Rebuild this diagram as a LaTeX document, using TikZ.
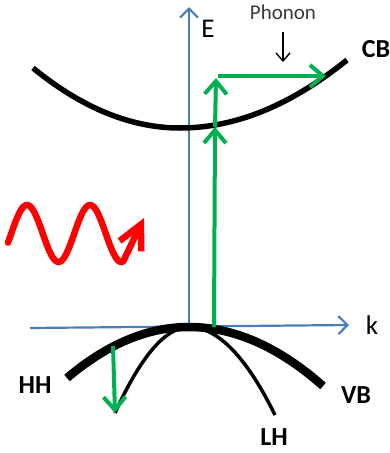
\documentclass[tikz,border=0pt]{standalone}
\usepackage{fontspec}
\setmainfont{Carlito}
\usetikzlibrary{arrows.meta}

\definecolor{axisblue}{HTML}{4A7EBB}
\definecolor{jumpgreen}{HTML}{00B050}
\definecolor{phonongray}{HTML}{3A3A3A}

\begin{document}
\begin{tikzpicture}[x=1pt,y=-1pt,
  axis/.style={draw=axisblue, line width=2.2pt, -{Straight Barb[length=9pt,width=18pt]}},
  jump/.style={draw=jumpgreen, line width=4pt, -{Straight Barb[length=13pt,width=22pt]}},
  band/.style={line width=5.5pt},
  lbl/.style={font=\bfseries\fontsize{26}{26}\selectfont, inner sep=0pt},
  ax/.style={font=\fontsize{27}{27}\selectfont, inner sep=0pt}]
\useasboundingbox (0,0) rectangle (390,453);

% axes
\coordinate (origin) at (189,327);
\coordinate (etop) at (189,7);
\coordinate (kleft) at (30,328);
\coordinate (kright) at (349,325);
\draw[axis] (origin) -- (etop);
\draw[axis] (kleft) -- (kright);
\node[ax] (elabel) at (208,29) {E};
\node[ax] (klabel) at (372,325) {k};

% conduction band
\coordinate (cbmin) at (180,128);
\draw[band] (33,68) .. controls (82,108) and (131,128) .. (cbmin)
  .. controls (236,128) and (291,105) .. (347,60);
\node[lbl] (cb) at (376,49) {CB};

% valence bands
\draw[line width=8.5pt] (67,378) .. controls (107,344) and (148,327) .. (origin)
  .. controls (234,327) and (279,347) .. (323,386);
\draw[line width=3.5pt] (115,413) .. controls (140,358) and (165,327) .. (origin)
  .. controls (218,327) and (247,358) .. (275,415);
\node[lbl] (hh) at (35,385) {HH};
\node[lbl] (vb) at (356,395) {VB};
\node[lbl] (lh) at (274,437) {LH};

% transitions
\coordinate (vtop) at (214,327);
\coordinate (cbhit) at (215,127);
\coordinate (virt) at (216,78);
\coordinate (cbend) at (326,76);
\draw[jump] (vtop) -- (cbhit);
\draw[jump] (cbhit) -- (virt);
\draw[jump] (218,76) -- (cbend);
\coordinate (hhtop) at (113,346);
\coordinate (hhbot) at (115,413);
\draw[jump] (hhtop) -- (hhbot);

% phonon
\node[font=\fontsize{21}{21}\selectfont, text=phonongray, inner sep=0pt] (phonon) at (283,12) {Phonon};
\coordinate (phend) at (283,62);
\draw[line width=1.4pt, -{Straight Barb[length=8pt,width=14pt]}] (283,32) -- (phend);

% photon
\coordinate (photontip) at (144,218);
\draw[red, line width=6.5pt, line cap=round, line join=round, -{Straight Barb[length=24pt,width=24pt]}]
  plot[domain=8:123, samples=80, smooth] (\x,{233.5-28.5*cos((\x-27)/63*360)})
  -- (photontip);
\end{tikzpicture}
\end{document}
